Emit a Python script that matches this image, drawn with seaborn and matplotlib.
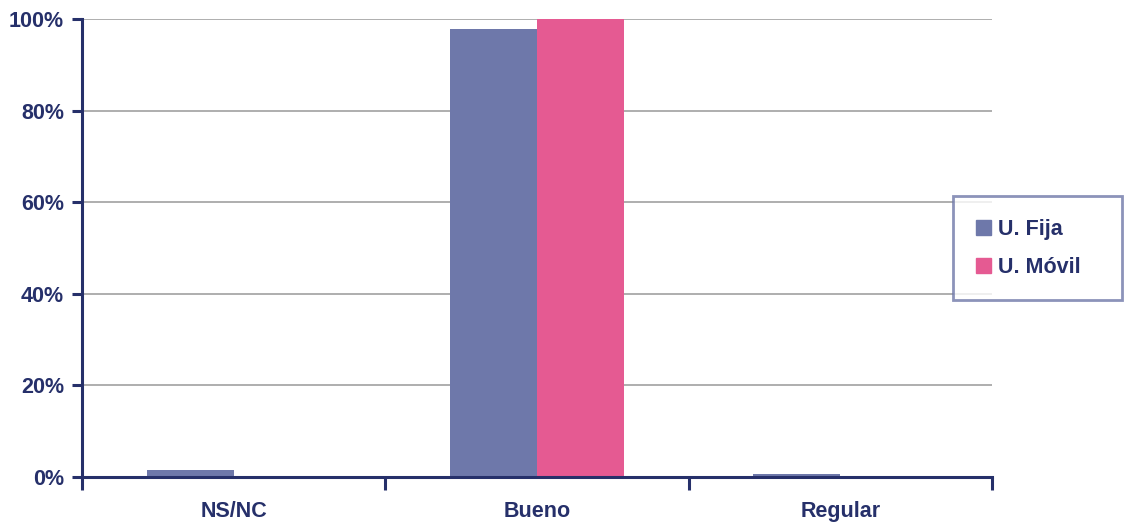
import matplotlib
matplotlib.use("Agg")
import matplotlib.pyplot as plt
import matplotlib.ticker as mticker
import seaborn as sns
import pandas as pd

categories = ["NS/NC", "Bueno", "Regular"]
series = ["U. Fija", "U. Móvil"]
fija = [1.5, 97.8, 0.7]
movil = [0.0, 100.0, 0.0]
y_ticks = [0, 20, 40, 60, 80, 100]

df = pd.DataFrame({
    "categoria": categories * 2,
    "serie": [series[0]] * 3 + [series[1]] * 3,
    "valor": fija + movil,
})

navy = "#26306a"
palette = {"U. Fija": "#6e78aa", "U. Móvil": "#e55a92"}

sns.set_theme(style="white")
plt.rcParams["font.family"] = ["Liberation Sans", "DejaVu Sans"]

fig = plt.figure(figsize=(11.27, 5.22), dpi=100)
ax = fig.add_axes([82 / 1127, 1 - 477 / 522, (992 - 82) / 1127, (477 - 19) / 522])

sns.barplot(data=df, x="categoria", y="valor", hue="serie", order=categories,
            hue_order=series, palette=palette, width=0.574, saturation=1,
            linewidth=0, ax=ax, legend=False, zorder=3)

ax.set_xlim(-0.5, 2.5)
ax.set_ylim(0, 100)
ax.set_yticks(y_ticks)
ax.yaxis.set_major_formatter(mticker.FuncFormatter(lambda v, p: f"{v:.0f}%"))
ax.yaxis.grid(True, color="#a8a8a8", linewidth=1.3, zorder=0)
ax.set_axisbelow(True)
ax.set_xlabel("")
ax.set_ylabel("")

for s in ["top", "right"]:
    ax.spines[s].set_visible(False)
for s in ["left", "bottom"]:
    ax.spines[s].set_color(navy)
    ax.spines[s].set_linewidth(2.2)
    ax.spines[s].set_zorder(5)

fs = 15.5
ax.tick_params(axis="y", which="major", length=7, width=2.2, color=navy,
               labelcolor=navy, labelsize=fs, pad=6, left=True)
ax.tick_params(axis="x", which="major", length=0, labelcolor=navy,
               labelsize=fs, pad=17)
ax.set_xticks([-0.5, 0.5, 1.5, 2.5], minor=True)
ax.tick_params(axis="x", which="minor", length=9, width=2.2, color=navy,
               direction="out", bottom=True)
for lbl in ax.get_xticklabels() + ax.get_yticklabels():
    lbl.set_fontweight("bold")

handles = [plt.Rectangle((0, 0), 1, 1, color=palette[s]) for s in series]
leg = fig.legend(handles, series, loc="upper left", mode="expand",
                 bbox_to_anchor=(953 / 1127, 1 - 196 / 522 - 0.01, 169 / 1127, 0.01),
                 frameon=True, fancybox=False, handlelength=0.7, handleheight=0.7,
                 handletextpad=0.35, labelspacing=0.8, borderpad=1.05,
                 borderaxespad=0, prop={"size": fs, "weight": "bold"},
                 labelcolor=navy)
frame = leg.get_frame()
frame.set_edgecolor("#6f78a8")
frame.set_linewidth(2)
frame.set_facecolor("white")

fig.savefig("out.png", dpi=100, facecolor="white")
